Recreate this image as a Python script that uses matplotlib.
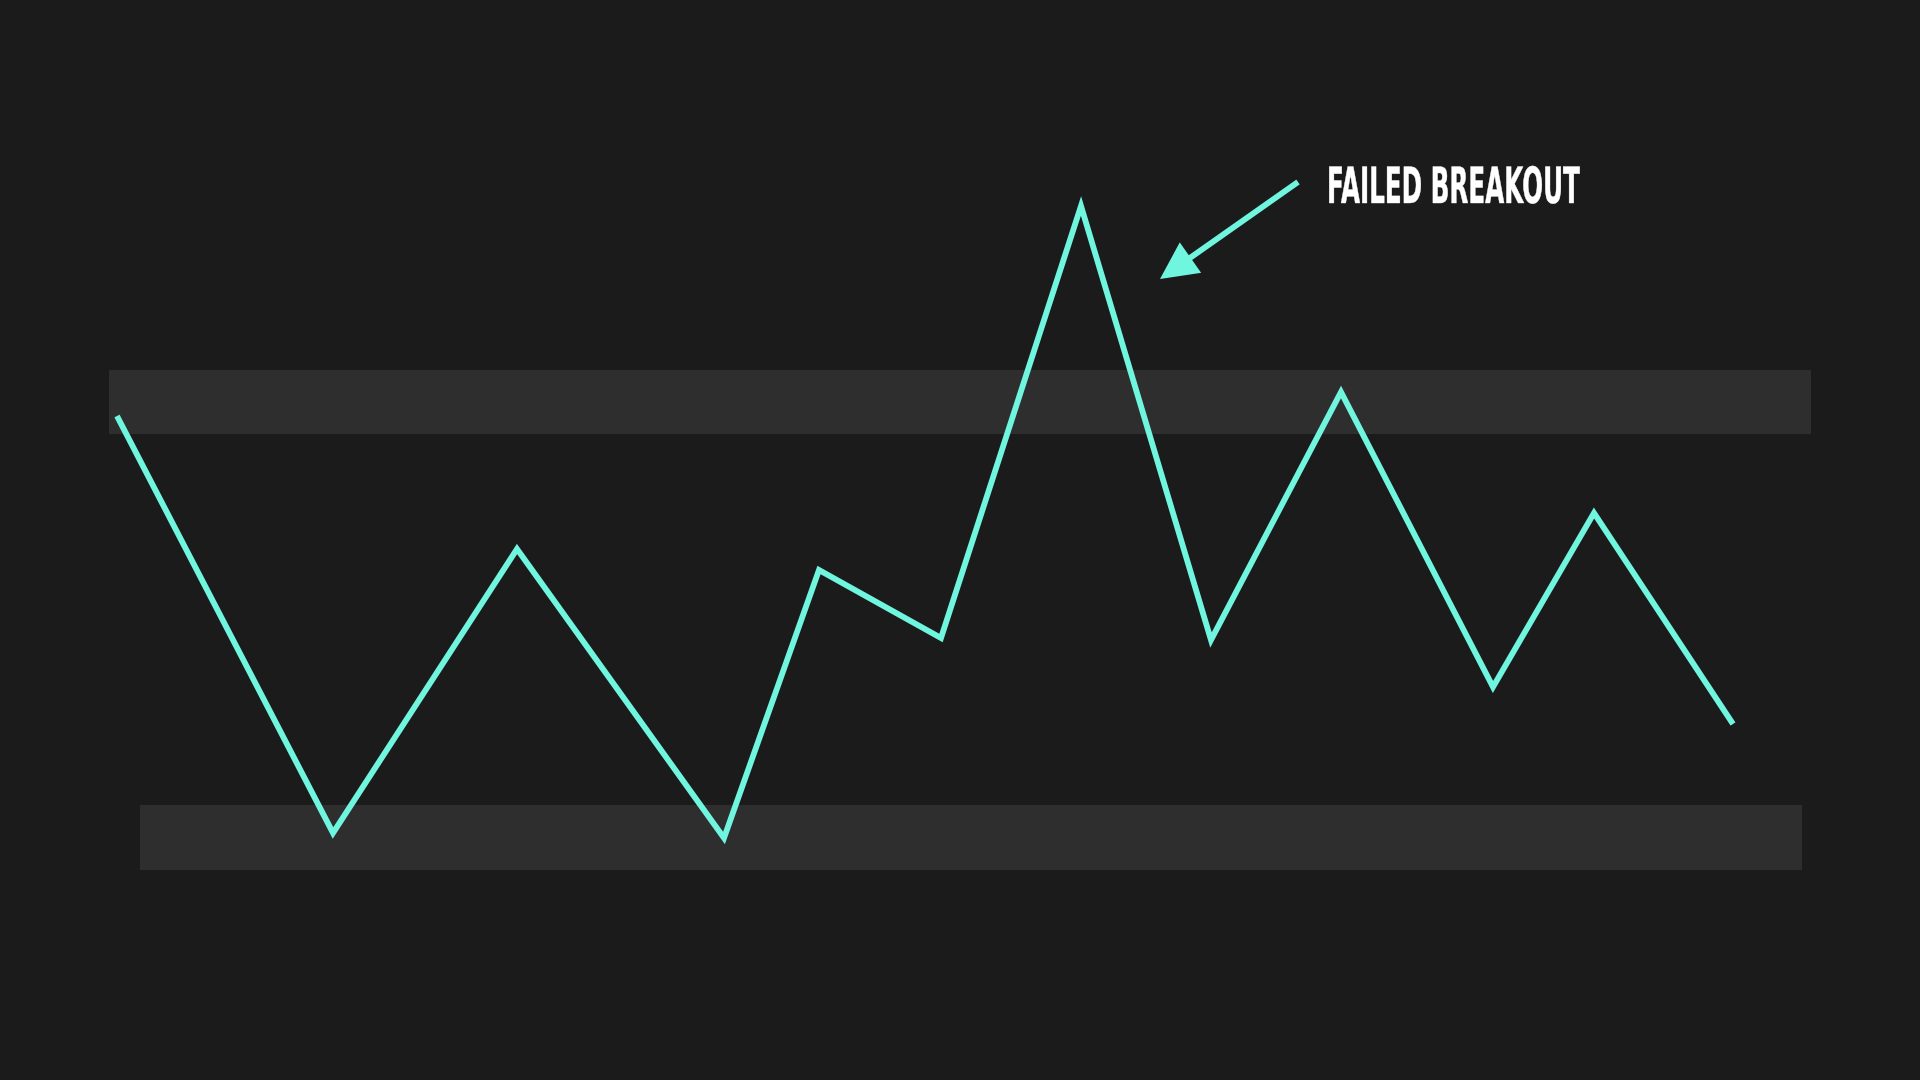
import matplotlib

matplotlib.use("Agg")
import matplotlib.pyplot as plt
from matplotlib.patheffects import AbstractPathEffect
from matplotlib.transforms import Affine2D

# price path (x = time position, y = price level)
time_x = [117, 333, 517, 724, 819, 941, 1081, 1211, 1341, 1493, 1594, 1733]
price = [664, 247, 531, 242, 510, 442, 874, 440, 688, 393, 567, 356]

# supply / demand zones: (x start, x end, low, high)
resistance_zone = (109, 1811, 646, 710)
support_zone = (140, 1802, 210, 275)

# annotation arrow: tail -> tip
arrow_tail = (1298, 898)
arrow_tip = (1160, 801)
label = "FAILED BREAKOUT"
label_pos = (1327, 877)

BG = "#1b1b1b"
ZONE = "#2e2e2e"
LINE = "#70f5df"


class Squeeze(AbstractPathEffect):
    """Narrow the glyphs horizontally (poor man's condensed display font)."""

    def __init__(self, sx=1.0, stroke=0.0):
        super().__init__()
        self.sx = sx
        self.stroke = stroke

    def draw_path(self, renderer, gc, tpath, affine, rgbFace=None):
        gc0 = renderer.new_gc()
        gc0.copy_properties(gc)
        gc0.set_linewidth(self.stroke)
        gc0.set_foreground(rgbFace)
        gc0.set_joinstyle("miter")
        renderer.draw_path(gc0, tpath, Affine2D().scale(self.sx, 1) + affine, rgbFace)
        gc0.restore()


fig = plt.figure(figsize=(19.2, 10.8), dpi=100, facecolor=BG)
ax = fig.add_axes([0, 0, 1, 1])
ax.set_facecolor(BG)
ax.set_xlim(0, 1920)
ax.set_ylim(0, 1080)
ax.axis("off")

for x0, x1, lo, hi in (resistance_zone, support_zone):
    ax.fill_between([x0, x1], lo, hi, color=ZONE, linewidth=0, zorder=1)

ax.plot(time_x, price, color=LINE, lw=4.2, solid_joinstyle="miter",
        solid_capstyle="butt", zorder=3)

ax.annotate("", xy=arrow_tip, xytext=arrow_tail,
            arrowprops=dict(arrowstyle="-|>,head_length=20,head_width=10",
                            mutation_scale=1, color=LINE, lw=4.2,
                            joinstyle="miter", capstyle="butt",
                            shrinkA=0, shrinkB=0), zorder=4)

txt = ax.text(*label_pos, label, color="white", fontsize=36, fontweight="bold",
              family="DejaVu Sans", ha="left", va="baseline", zorder=5)
fig.canvas.draw()
w = txt.get_window_extent().width
txt.set_path_effects([Squeeze(sx=253 / w, stroke=0.3)])

fig.savefig("out.png", dpi=100, facecolor=BG)
